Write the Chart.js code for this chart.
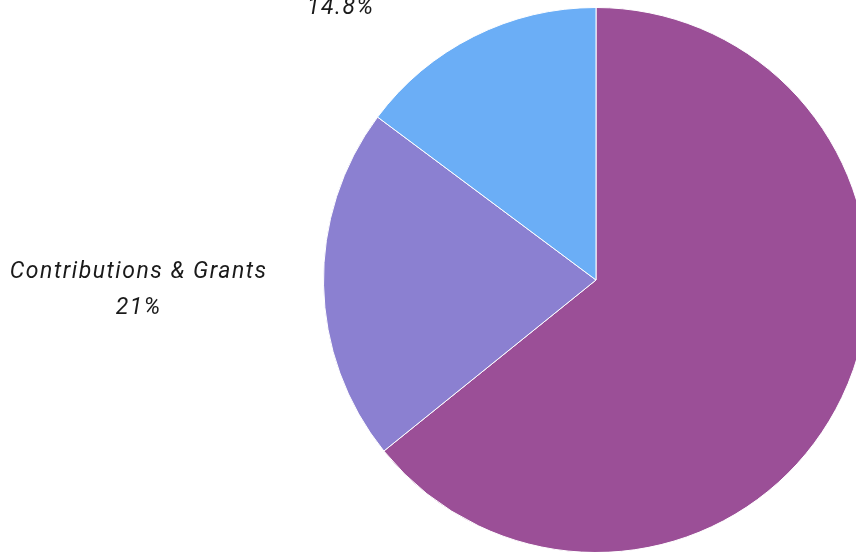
<!DOCTYPE html>
<html lang="en">
<head>
    <meta charset="UTF-8">
    <title>Revenue Pie</title>
    <script src="https://cdn.jsdelivr.net/npm/chart.js"></script>
    <style>
        body { margin: 0; padding: 0; overflow: hidden; background: #fff; }
        #wrap { position: absolute; left: 0; top: 0; width: 1192px; height: 560px; }
    </style>
</head>
<body>

<div id="wrap">
    <canvas id="pieChart"></canvas>
</div>

<script>
    // Slice data (clockwise from the top)
    const labels = ['Program Service Revenue', 'Contributions & Grants', 'Investment Income'];
    const shares = [64.2, 21, 14.8];
    const colors = ['#9b4f97', '#8b80d1', '#6baef6'];

    // Draws "name / value%" labels outside each slice
    const outsideLabels = {
        id: 'outsideLabels',
        afterDraw(chart) {
            const ctx = chart.ctx;
            const meta = chart.getDatasetMeta(0);
            ctx.save();
            ctx.font = 'italic 23px Roboto, "Noto Sans", sans-serif';
            ctx.letterSpacing = '1.5px';
            ctx.fillStyle = '#1a1a1a';
            ctx.textAlign = 'center';
            ctx.textBaseline = 'middle';
            meta.data.forEach((arc, i) => {
                const mid = (arc.startAngle + arc.endAngle) / 2;
                const dist = arc.outerRadius + 56;
                const lines = [labels[i], shares[i] + '%'];
                const w = Math.max(...lines.map(l => ctx.measureText(l).width));
                let x = arc.x + Math.cos(mid) * dist;
                const y = arc.y + Math.sin(mid) * dist + 4;
                x += Math.cos(mid) < 0 ? -w / 2 : w / 2;
                ctx.fillText(lines[0], x, y - 18);
                ctx.fillText(lines[1], x, y + 18);
            });
            ctx.restore();
        }
    };

    const ctx = document.getElementById('pieChart').getContext('2d');
    new Chart(ctx, {
        type: 'pie',
        data: {
            labels: labels,
            datasets: [{
                data: shares,
                backgroundColor: colors,
                borderColor: '#ffffff',
                borderWidth: 1
            }]
        },
        options: {
            responsive: true,
            maintainAspectRatio: false,
            animation: false,
            layout: { padding: { top: 7, bottom: 7 } },
            plugins: {
                legend: { display: false },
                tooltip: { enabled: false }
            }
        },
        plugins: [outsideLabels]
    });
</script>

</body>
</html>
